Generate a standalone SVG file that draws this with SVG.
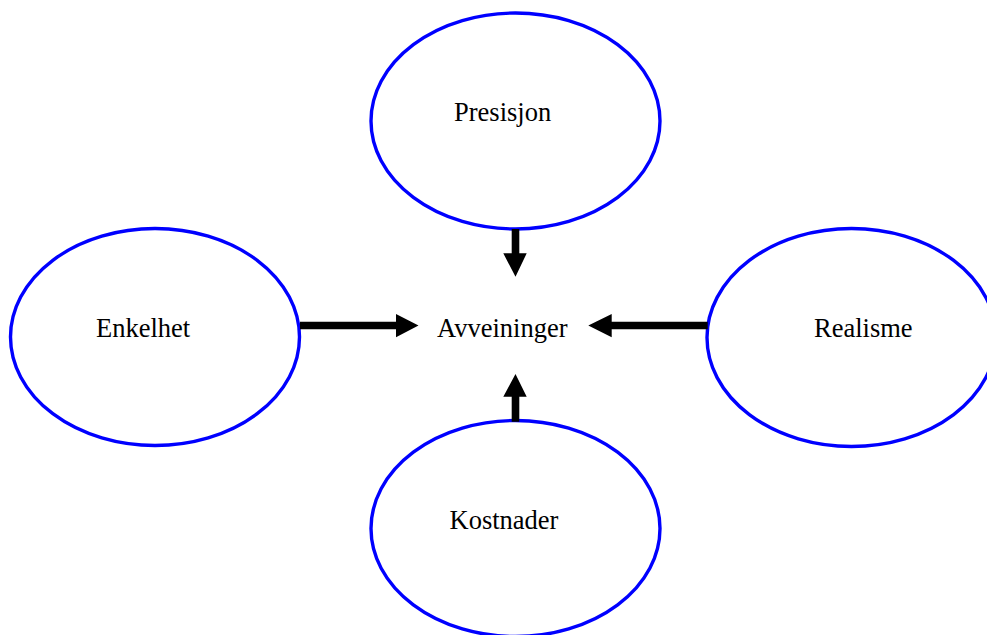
<svg xmlns="http://www.w3.org/2000/svg" width="987" height="635" viewBox="0 0 987 635">
<style>
.node ellipse{fill:#fff;stroke:#0000ff;stroke-width:3.4}
text{font-family:"Liberation Serif","Times New Roman",serif;font-size:26.5px;fill:#000}
.arr{fill:#000}
</style>
<rect width="987" height="635" fill="#fff"/>
<g id="presisjon" class="node"><ellipse cx="515.5" cy="121" rx="144.5" ry="108"/><text x="454" y="121">Presisjon</text></g>
<g id="enkelhet" class="node"><ellipse cx="155" cy="337" rx="144.5" ry="108.5"/><text x="96" y="337">Enkelhet</text></g>
<g id="realisme" class="node"><ellipse cx="851.5" cy="337.5" rx="144.5" ry="109"/><text x="814" y="337">Realisme</text></g>
<g id="kostnader" class="node"><ellipse cx="515.5" cy="528.5" rx="144.5" ry="108"/><text x="449.5" y="528.5">Kostnader</text></g>
<g id="avveininger"><text x="437" y="337">Avveininger</text></g>
<g id="connectors" class="arr">
<polygon points="300,321.7 396,321.7 396,314 418.5,325.5 396,337.3 396,329.3 300,329.3"/>
<polygon points="707.7,321.7 611.7,321.7 611.7,314 588.3,325.5 611.7,337.3 611.7,329.3 707.7,329.3"/>
<polygon points="511.7,229 519.3,229 519.3,253.3 526.7,253.3 515.5,276.7 503.3,253.3 511.7,253.3"/>
<polygon points="511.7,421.7 519.3,421.7 519.3,396.7 526.7,396.7 515.5,374 503.3,396.7 511.7,396.7"/>
</g>
</svg>
